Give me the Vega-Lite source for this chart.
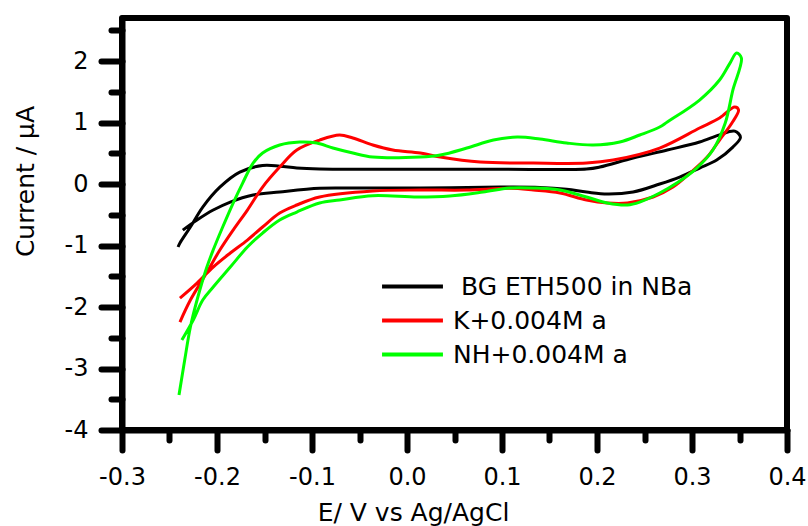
{
  "$schema": "https://vega.github.io/schema/vega-lite/v6.json",
  "width": 665,
  "height": 412,
  "autosize": {"type": "none"},
  "padding": {"left": 122, "top": 18, "right": 21, "bottom": 96},
  "background": "white",
  "config": {
    "view": {"stroke": "black", "strokeWidth": 6, "strokeJoin": "round"},
    "axis": {
      "domainColor": "black", "domainWidth": 6, "domainCap": "round",
      "tickColor": "black", "tickWidth": 6, "tickCap": "round",
      "labelFont": "DejaVu Sans", "labelFontSize": 24, "labelColor": "black",
      "titleFont": "DejaVu Sans", "titleFontWeight": "normal", "titleColor": "black",
      "grid": false, "labelFlush": false, "labelOverlap": false
    }
  },
  "data": {"values": [
    {"s":"BG","i":1,"E":-0.236,"I":-0.75},
    {"s":"BG","i":2,"E":-0.221,"I":-0.585},
    {"s":"BG","i":3,"E":-0.204,"I":-0.423},
    {"s":"BG","i":4,"E":-0.186,"I":-0.293},
    {"s":"BG","i":5,"E":-0.162,"I":-0.179},
    {"s":"BG","i":6,"E":-0.134,"I":-0.13},
    {"s":"BG","i":7,"E":-0.092,"I":-0.07},
    {"s":"BG","i":8,"E":-0.063,"I":-0.065},
    {"s":"BG","i":9,"E":0.014,"I":-0.065},
    {"s":"BG","i":10,"E":0.098,"I":-0.05},
    {"s":"BG","i":11,"E":0.14,"I":-0.055},
    {"s":"BG","i":12,"E":0.168,"I":-0.085},
    {"s":"BG","i":13,"E":0.189,"I":-0.13},
    {"s":"BG","i":14,"E":0.211,"I":-0.163},
    {"s":"BG","i":15,"E":0.238,"I":-0.13},
    {"s":"BG","i":16,"E":0.266,"I":0},
    {"s":"BG","i":17,"E":0.287,"I":0.114},
    {"s":"BG","i":18,"E":0.308,"I":0.26},
    {"s":"BG","i":19,"E":0.326,"I":0.39},
    {"s":"BG","i":20,"E":0.343,"I":0.6},
    {"s":"BG","i":21,"E":0.351,"I":0.76},
    {"s":"BG","i":22,"E":0.345,"I":0.86},
    {"s":"BG","i":23,"E":0.329,"I":0.8},
    {"s":"BG","i":24,"E":0.308,"I":0.683},
    {"s":"BG","i":25,"E":0.274,"I":0.553},
    {"s":"BG","i":26,"E":0.238,"I":0.423},
    {"s":"BG","i":27,"E":0.203,"I":0.276},
    {"s":"BG","i":28,"E":0.189,"I":0.244},
    {"s":"BG","i":29,"E":0.098,"I":0.24},
    {"s":"BG","i":30,"E":0.014,"I":0.24},
    {"s":"BG","i":31,"E":-0.092,"I":0.244},
    {"s":"BG","i":32,"E":-0.116,"I":0.26},
    {"s":"BG","i":33,"E":-0.134,"I":0.29},
    {"s":"BG","i":34,"E":-0.152,"I":0.3},
    {"s":"BG","i":35,"E":-0.176,"I":0.195},
    {"s":"BG","i":36,"E":-0.197,"I":-0.05},
    {"s":"BG","i":37,"E":-0.215,"I":-0.374},
    {"s":"BG","i":38,"E":-0.228,"I":-0.699},
    {"s":"BG","i":39,"E":-0.239,"I":-0.959},
    {"s":"BG","i":40,"E":-0.241,"I":-1.024},
    {"s":"K","i":1,"E":-0.239,"I":-2.244},
    {"s":"K","i":2,"E":-0.228,"I":-1.886},
    {"s":"K","i":3,"E":-0.211,"I":-1.447},
    {"s":"K","i":4,"E":-0.197,"I":-1.073},
    {"s":"K","i":5,"E":-0.183,"I":-0.748},
    {"s":"K","i":6,"E":-0.168,"I":-0.423},
    {"s":"K","i":7,"E":-0.152,"I":-0.049},
    {"s":"K","i":8,"E":-0.134,"I":0.276},
    {"s":"K","i":9,"E":-0.116,"I":0.553},
    {"s":"K","i":10,"E":-0.092,"I":0.715},
    {"s":"K","i":11,"E":-0.071,"I":0.797},
    {"s":"K","i":12,"E":-0.057,"I":0.748},
    {"s":"K","i":13,"E":-0.036,"I":0.634},
    {"s":"K","i":14,"E":-0.015,"I":0.553},
    {"s":"K","i":15,"E":0.014,"I":0.504},
    {"s":"K","i":16,"E":0.035,"I":0.439},
    {"s":"K","i":17,"E":0.077,"I":0.358},
    {"s":"K","i":18,"E":0.133,"I":0.341},
    {"s":"K","i":19,"E":0.189,"I":0.341},
    {"s":"K","i":20,"E":0.217,"I":0.39},
    {"s":"K","i":21,"E":0.266,"I":0.585},
    {"s":"K","i":22,"E":0.308,"I":0.911},
    {"s":"K","i":23,"E":0.329,"I":1.073},
    {"s":"K","i":24,"E":0.345,"I":1.252},
    {"s":"K","i":25,"E":0.349,"I":1.203},
    {"s":"K","i":26,"E":0.342,"I":0.992},
    {"s":"K","i":27,"E":0.329,"I":0.715},
    {"s":"K","i":28,"E":0.316,"I":0.439},
    {"s":"K","i":29,"E":0.298,"I":0.179},
    {"s":"K","i":30,"E":0.28,"I":-0.049},
    {"s":"K","i":31,"E":0.259,"I":-0.211},
    {"s":"K","i":32,"E":0.232,"I":-0.309},
    {"s":"K","i":33,"E":0.211,"I":-0.309},
    {"s":"K","i":34,"E":0.189,"I":-0.26},
    {"s":"K","i":35,"E":0.161,"I":-0.146},
    {"s":"K","i":36,"E":0.133,"I":-0.098},
    {"s":"K","i":37,"E":0.108,"I":-0.07},
    {"s":"K","i":38,"E":0.063,"I":-0.098},
    {"s":"K","i":39,"E":0.014,"I":-0.098},
    {"s":"K","i":40,"E":-0.036,"I":-0.114},
    {"s":"K","i":41,"E":-0.092,"I":-0.211},
    {"s":"K","i":42,"E":-0.116,"I":-0.341},
    {"s":"K","i":43,"E":-0.134,"I":-0.472},
    {"s":"K","i":44,"E":-0.152,"I":-0.699},
    {"s":"K","i":45,"E":-0.168,"I":-0.911},
    {"s":"K","i":46,"E":-0.186,"I":-1.122},
    {"s":"K","i":47,"E":-0.204,"I":-1.35},
    {"s":"K","i":48,"E":-0.221,"I":-1.61},
    {"s":"K","i":49,"E":-0.239,"I":-1.854},
    {"s":"NH","i":1,"E":-0.24,"I":-3.431},
    {"s":"NH","i":2,"E":-0.234,"I":-2.862},
    {"s":"NH","i":3,"E":-0.228,"I":-2.325},
    {"s":"NH","i":4,"E":-0.221,"I":-1.886},
    {"s":"NH","i":5,"E":-0.211,"I":-1.366},
    {"s":"NH","i":6,"E":-0.204,"I":-1.073},
    {"s":"NH","i":7,"E":-0.194,"I":-0.699},
    {"s":"NH","i":8,"E":-0.183,"I":-0.309},
    {"s":"NH","i":9,"E":-0.173,"I":0.016},
    {"s":"NH","i":10,"E":-0.162,"I":0.341},
    {"s":"NH","i":11,"E":-0.152,"I":0.504},
    {"s":"NH","i":12,"E":-0.134,"I":0.634},
    {"s":"NH","i":13,"E":-0.113,"I":0.683},
    {"s":"NH","i":14,"E":-0.095,"I":0.667},
    {"s":"NH","i":15,"E":-0.078,"I":0.585},
    {"s":"NH","i":16,"E":-0.057,"I":0.504},
    {"s":"NH","i":17,"E":-0.036,"I":0.439},
    {"s":"NH","i":18,"E":0.014,"I":0.439},
    {"s":"NH","i":19,"E":0.035,"I":0.472},
    {"s":"NH","i":20,"E":0.063,"I":0.585},
    {"s":"NH","i":21,"E":0.091,"I":0.715},
    {"s":"NH","i":22,"E":0.116,"I":0.764},
    {"s":"NH","i":23,"E":0.14,"I":0.732},
    {"s":"NH","i":24,"E":0.168,"I":0.667},
    {"s":"NH","i":25,"E":0.196,"I":0.634},
    {"s":"NH","i":26,"E":0.224,"I":0.683},
    {"s":"NH","i":27,"E":0.245,"I":0.797},
    {"s":"NH","i":28,"E":0.266,"I":0.927},
    {"s":"NH","i":29,"E":0.274,"I":1.008},
    {"s":"NH","i":30,"E":0.308,"I":1.366},
    {"s":"NH","i":31,"E":0.329,"I":1.691},
    {"s":"NH","i":32,"E":0.34,"I":1.967},
    {"s":"NH","i":33,"E":0.347,"I":2.13},
    {"s":"NH","i":34,"E":0.352,"I":2.049},
    {"s":"NH","i":35,"E":0.343,"I":1.528},
    {"s":"NH","i":36,"E":0.335,"I":0.992},
    {"s":"NH","i":37,"E":0.322,"I":0.553},
    {"s":"NH","i":38,"E":0.305,"I":0.26},
    {"s":"NH","i":39,"E":0.284,"I":0.016},
    {"s":"NH","i":40,"E":0.266,"I":-0.146},
    {"s":"NH","i":41,"E":0.245,"I":-0.293},
    {"s":"NH","i":42,"E":0.232,"I":-0.341},
    {"s":"NH","i":43,"E":0.211,"I":-0.309},
    {"s":"NH","i":44,"E":0.189,"I":-0.211},
    {"s":"NH","i":45,"E":0.161,"I":-0.098},
    {"s":"NH","i":46,"E":0.133,"I":-0.065},
    {"s":"NH","i":47,"E":0.108,"I":-0.065},
    {"s":"NH","i":48,"E":0.08,"I":-0.13},
    {"s":"NH","i":49,"E":0.045,"I":-0.195},
    {"s":"NH","i":50,"E":0.011,"I":-0.211},
    {"s":"NH","i":51,"E":-0.036,"I":-0.19},
    {"s":"NH","i":52,"E":-0.071,"I":-0.26},
    {"s":"NH","i":53,"E":-0.092,"I":-0.309},
    {"s":"NH","i":54,"E":-0.116,"I":-0.455},
    {"s":"NH","i":55,"E":-0.134,"I":-0.585},
    {"s":"NH","i":56,"E":-0.152,"I":-0.797},
    {"s":"NH","i":57,"E":-0.168,"I":-1.024},
    {"s":"NH","i":58,"E":-0.186,"I":-1.35},
    {"s":"NH","i":59,"E":-0.204,"I":-1.675},
    {"s":"NH","i":60,"E":-0.215,"I":-1.886},
    {"s":"NH","i":61,"E":-0.225,"I":-2.211},
    {"s":"NH","i":62,"E":-0.237,"I":-2.537}
  ]},
  "mark": {"type": "line", "strokeWidth": 3, "interpolate": "catmull-rom"},
  "encoding": {
    "x": {
      "field": "E", "type": "quantitative",
      "scale": {"domain": [-0.3, 0.4], "nice": false, "zero": false},
      "axis": {
        "values": [-0.3,-0.25,-0.2,-0.15,-0.1,-0.05,0,0.05,0.1,0.15,0.2,0.25,0.3,0.35,0.4],
        "labelExpr": "abs(datum.value*10 - round(datum.value*10)) < 0.001 ? (datum.value == 0 ? '0.0' : toString(datum.value)) : ''",
        "tickSize": {"condition": {"test": "abs(datum.value*10 - round(datum.value*10)) < 0.001", "value": 20}, "value": 10},
        "labelPadding": 15,
        "title": "E/ V vs Ag/AgCl",
        "titleFontSize": 25,
        "titleX": 291, "titleY": 90,
        "titleAlign": "center", "titleBaseline": "alphabetic"
      }
    },
    "y": {
      "field": "I", "type": "quantitative",
      "scale": {"domain": [-4, 2.7], "nice": false, "zero": false},
      "axis": {
        "values": [-4,-3.5,-3,-2.5,-2,-1.5,-1,-0.5,0,0.5,1,1.5,2,2.5],
        "labelExpr": "datum.value % 1 == 0 ? toString(datum.value) : ''",
        "tickSize": {"condition": {"test": "datum.value % 1 == 0", "value": 21}, "value": 11},
        "labelPadding": 13,
        "title": "Current / µA",
        "titleFontSize": 25,
        "titleX": -89, "titleY": 163, "titleAngle": 270,
        "titleAlign": "center", "titleBaseline": "alphabetic"
      }
    },
    "color": {
      "field": "s", "type": "nominal",
      "scale": {"domain": ["BG", "K", "NH"], "range": ["#000000", "#ff0000", "#00ff00"]},
      "legend": {
        "title": null, "orient": "none", "legendX": 278, "legendY": 256,
        "symbolType": "M-6,0L6,0", "symbolSize": 103, "symbolStrokeWidth": 4,
        "labelFont": "DejaVu Sans", "labelFontSize": 25, "labelColor": "black",
        "labelLimit": 500,
        "labelOffset": 28, "rowPadding": 8, "padding": 0,
        "labelExpr": "datum.label == 'BG' ? '\u200b\u00a0BG ETH500 in NBa' : datum.label == 'K' ? 'K+0.004M a' : 'NH+0.004M a'"
      }
    },
    "order": {"field": "i", "type": "quantitative"}
  }
}
